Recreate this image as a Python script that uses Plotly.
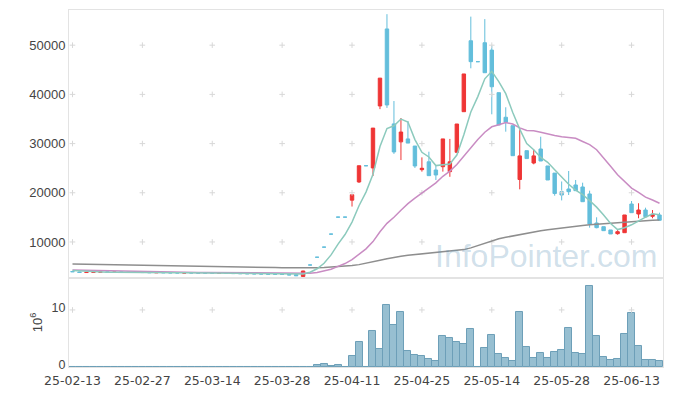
import pandas as pd
import plotly.graph_objects as go
from plotly.subplots import make_subplots

# ---------------- data ----------------
holidays = ["2025-03-03", "2025-05-01", "2025-05-05", "2025-05-06", "2025-06-03", "2025-06-06"]
dates = [d for d in pd.bdate_range("2025-02-13", "2025-06-19") if d.strftime("%Y-%m-%d") not in holidays]
date_labels = [d.strftime("%y-%m-%d") for d in dates]

open_ = [4000, 3900, 3790, 3820, 3860, 3920, 3840, 3890, 3870, 3840, 3830, 3800, 3740, 3790, 3760, 3740, 3680,
         3730, 3700, 3690, 3660, 3600, 3650, 3620, 3590, 3580, 3560, 3530, 3500, 3470, 3440, 3420, 3350,
         3000, 5320, 6900, 8950, 11600, 15050, 15050, 18500, 22200, 25500, 25050, 37650, 53300, 34000, 30350,
         30950, 29500, 24700, 26300, 24630, 25300, 24300, 28230, 36480, 50900, 46650, 50500, 49000, 40350,
         35350, 33640, 22700, 28560, 26050, 28900, 25450, 24000, 20220, 20770, 21590, 21180, 19760, 13860,
         13110, 12440, 11690, 11890, 17720, 15690, 16500, 15220, 15490]
high = [4040, 3940, 3870, 3910, 3940, 3960, 3920, 3930, 3910, 3880, 3870, 3840, 3820, 3830, 3800, 3780, 3760,
        3770, 3740, 3730, 3700, 3680, 3690, 3660, 3630, 3620, 3600, 3570, 3540, 3510, 3480, 3460, 3390,
        4150, 5320, 6900, 8950, 11600, 15050, 15050, 19600, 25500, 25500, 33150, 43300, 56300, 38650, 35200,
        34600, 29500, 27200, 28350, 25650, 30950, 30950, 33980, 44150, 55800, 46650, 55300, 49900, 40350,
        37380, 33640, 32900, 28560, 28800, 31400, 25450, 24000, 22300, 24430, 22600, 22050, 20430, 15020,
        13110, 12440, 12640, 15490, 18330, 17870, 16970, 16500, 15960]
low = [3910, 3760, 3750, 3780, 3820, 3820, 3800, 3810, 3780, 3760, 3750, 3720, 3700, 3700, 3680, 3660, 3640,
       3650, 3620, 3610, 3580, 3560, 3560, 3540, 3520, 3500, 3480, 3450, 3420, 3390, 3360, 3260, 3110,
       2950, 5320, 6900, 8950, 11600, 15050, 15050, 17200, 22000, 25500, 23400, 37000, 37250, 27900, 26650,
       30100, 25050, 24300, 23480, 22600, 24300, 23250, 28230, 36480, 45300, 46650, 44400, 35950, 33780,
       32420, 27540, 20700, 26950, 25790, 26460, 22600, 19410, 18450, 19550, 20430, 18190, 12910, 12780,
       12300, 11630, 11480, 11890, 15960, 14820, 15140, 14820, 14410]
close = [3950, 3800, 3830, 3870, 3900, 3860, 3880, 3850, 3820, 3800, 3790, 3760, 3780, 3740, 3720, 3700, 3720,
         3690, 3660, 3650, 3620, 3640, 3600, 3580, 3560, 3540, 3520, 3490, 3460, 3430, 3400, 3300, 3150,
         4100, 5320, 6900, 8950, 11600, 15050, 15050, 19600, 25500, 25500, 33150, 43300, 37850, 28300, 32350,
         30100, 25450, 24980, 23480, 23620, 30950, 26300, 33980, 44150, 46650, 46650, 44400, 41550, 33780,
         34330, 27540, 27500, 26950, 27500, 26460, 22600, 19850, 19550, 20220, 20430, 18190, 13660, 12910,
         12300, 11630, 12090, 15490, 15960, 16500, 15140, 15630, 14410]
# closes of the 19 sessions before the window (for the moving averages)
prior_close = [4500, 4480, 4450, 4470, 4420, 4400, 4380, 4390, 4350, 4330, 4300, 4310, 4280, 4260, 4250,
               4270, 4230, 4250, 4200]
# long moving average
ma_long = [5550, 5530, 5505, 5480, 5455, 5430, 5405, 5380, 5355, 5330, 5305, 5280, 5255, 5230, 5205, 5180,
           5155, 5130, 5105, 5080, 5055, 5030, 5005, 4980, 4955, 4930, 4900, 4870, 4840, 4810, 4780, 4750,
           4720, 4700,
           4720, 4760, 4820, 4900, 4990, 5080, 5200, 5400, 5650, 5950, 6280, 6600, 6880, 7100, 7280, 7430,
           7560, 7680, 7800, 7920, 8030, 8250, 8450, 8800, 9250, 9750, 10250, 10650, 10950, 11250, 11550,
           11800, 12050, 12300, 12500, 12700, 12900, 13050, 13200, 13350, 13480, 13600, 13720, 13830, 13930,
           14030, 14150, 14250, 14330, 14400, 14470]
# volume in millions of shares
volume_m = [0] * 35 + [0.35, 0.53, 0.18, 0.35, 0, 1.93, 4.39, 0, 6.3, 3.16, 10.9, 7.4, 9.65, 2.8, 2.1, 1.93,
            1.4, 1.05, 5.44, 5.09, 4.39, 4.04, 6.67, 0, 3.33, 5.6, 2.28, 1.58, 1.05, 9.65, 3.5, 1.58, 2.46,
            1.58, 2.63, 2.98, 6.84, 2.46, 2.28, 14.2, 5.44, 1.75, 1.23, 1.4, 5.8, 9.47, 3.68, 1.23, 1.23, 1.05]

price_ticks = [10000, 20000, 30000, 40000, 50000]
volume_ticks = [0, 10]

n = len(dates)
assert all(len(a) == n for a in (open_, high, low, close, ma_long, volume_m))

idx = list(range(n))
all_close = pd.Series(prior_close + close, dtype=float)
ma5 = all_close.rolling(5).mean().iloc[len(prior_close):].tolist()
ma20 = all_close.rolling(20).mean().iloc[len(prior_close):].tolist()

RED = "#ef3535"
BLUE = "#63bedb"

flat = [i for i in idx if open_[i] == close[i] == high[i] == low[i]]
move = [i for i in idx if i not in flat]

fig = make_subplots(rows=2, cols=1, shared_xaxes=True, vertical_spacing=0.003,
                    row_heights=[0.75, 0.25])

# grid crosses at tick intersections
tick_x = list(range(0, n, 10))
cross = dict(symbol="cross-thin", size=4, line=dict(color="#d8d8d8", width=1))
fig.add_trace(go.Scatter(x=[x for x in tick_x for _ in price_ticks], y=[y for _ in tick_x for y in price_ticks],
                         mode="markers", marker=cross, hoverinfo="skip"), row=1, col=1)
fig.add_trace(go.Scatter(x=tick_x, y=[10] * len(tick_x), mode="markers", marker=cross,
                         hoverinfo="skip"), row=2, col=1)

fig.add_trace(go.Candlestick(x=move, open=[open_[i] for i in move], high=[high[i] for i in move],
                             low=[low[i] for i in move], close=[close[i] for i in move],
                             increasing=dict(line=dict(color=RED, width=1), fillcolor=RED),
                             decreasing=dict(line=dict(color=BLUE, width=1), fillcolor=BLUE),
                             whiskerwidth=0, hoverinfo="skip"), row=1, col=1)
fig.add_trace(go.Candlestick(x=flat, open=[open_[i] for i in flat], high=[high[i] for i in flat],
                             low=[low[i] for i in flat], close=[close[i] for i in flat],
                             increasing=dict(line=dict(color=BLUE, width=1), fillcolor=BLUE),
                             decreasing=dict(line=dict(color=BLUE, width=1), fillcolor=BLUE),
                             whiskerwidth=0, hoverinfo="skip"), row=1, col=1)

fig.add_trace(go.Scatter(x=idx, y=ma_long, mode="lines", line=dict(color="#8e8e8e", width=1.5),
                         hoverinfo="skip"), row=1, col=1)
fig.add_trace(go.Scatter(x=idx, y=ma20, mode="lines", line=dict(color="#c98cc3", width=1.5),
                         hoverinfo="skip"), row=1, col=1)
fig.add_trace(go.Scatter(x=idx, y=ma5, mode="lines", line=dict(color="#8ccabd", width=1.5),
                         hoverinfo="skip"), row=1, col=1)

fig.add_trace(go.Bar(x=idx, y=volume_m, width=1.0,
                     marker=dict(color="rgba(140,184,204,0.9)", line=dict(color="#6d9fb8", width=1)),
                     hoverinfo="skip"), row=2, col=1)

# the page body has an 8px default margin, so the figure is sized/margined to compensate
font = dict(family="Liberation Sans", size=13, color="#444")
fig.update_layout(width=665, height=388, margin=dict(l=61, r=10, t=2, b=29, autoexpand=False),
                  paper_bgcolor="white", plot_bgcolor="white", showlegend=False,
                  font=font, bargap=0)
fig.update_xaxes(range=[-0.5, n - 0.5], showgrid=False, zeroline=False, showline=True, automargin=False,
                 linecolor="#e3e3e3", mirror=True, rangeslider_visible=False)
fig.update_xaxes(tickmode="array", tickvals=tick_x, ticktext=[date_labels[i] for i in tick_x],
                 ticks="", ticklabelstandoff=2,
                 tickfont=dict(family="DejaVu Sans", size=12.5, color="#444"), row=2, col=1)
fig.update_xaxes(showticklabels=False, row=1, col=1)
fig.update_yaxes(showgrid=False, zeroline=False, showline=True, linecolor="#e3e3e3", mirror=True,
                 automargin=False)
fig.update_yaxes(range=[2680, 57150], tickvals=price_ticks, ticktext=[str(v) for v in price_ticks],
                 row=1, col=1)
fig.update_yaxes(range=[0, 15.6], tickvals=volume_ticks, ticktext=[str(v) for v in volume_ticks],
                 ticklabelshift=-2, tickfont=dict(family="Liberation Sans", size=12.5, color="#444"),
                 title=dict(text="10<sup>6</sup>", standoff=6, font=font), row=2, col=1)
fig.update_layout(yaxis=dict(domain=[0.2493, 1.0]), yaxis2=dict(domain=[0.0, 0.2493]))

fig.add_annotation(text="InfoPointer.com", xref="paper", yref="paper", x=0.993, y=0.255,
                   xanchor="right", yanchor="bottom", showarrow=False,
                   font=dict(family="Liberation Sans", size=32, color="rgba(95,150,185,0.30)"))

fig.write_html("out.html")
